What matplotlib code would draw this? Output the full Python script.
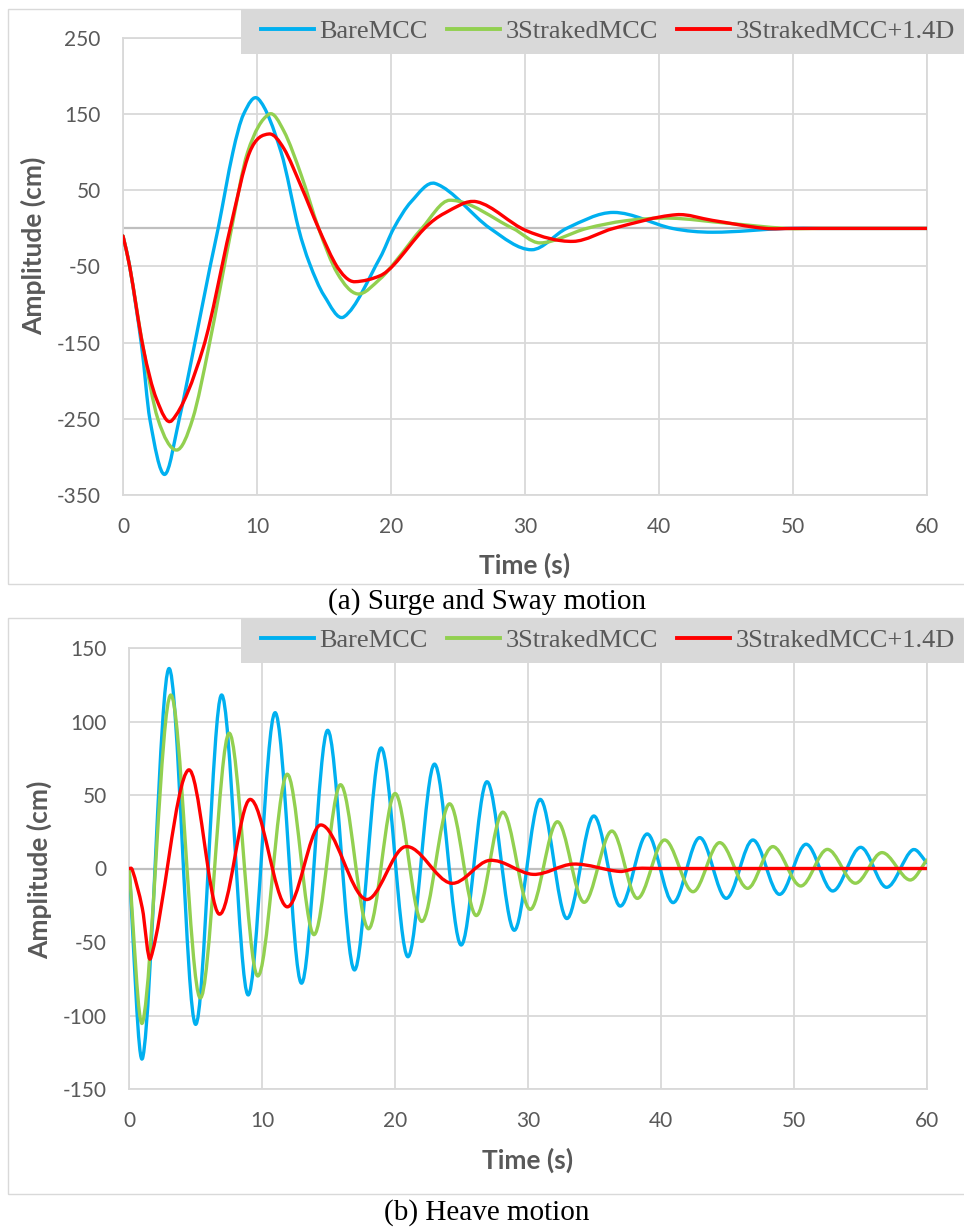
import numpy as np
import matplotlib
matplotlib.use("Agg")
import matplotlib.pyplot as plt
from matplotlib.path import Path
from matplotlib.patches import PathPatch, Rectangle
from matplotlib.lines import Line2D

plt.rcParams["axes.unicode_minus"] = False


# ---------- Data -------------------------------------------------------------

SERIES  = ["BareMCC", "3StrakedMCC", "3StrakedMCC+1.4D"]
COLOURS = ["#00b0f0", "#92d050", "#ff0000"]

# (a) surge / sway decay: time (s) and amplitude (cm)
surge_bare_t = [0, 0.5, 1.4, 2.0, 3.1, 4.2, 5.3, 6.5, 7.1, 8.2, 9.0, 10.1,
                11.8, 13.1, 13.9, 15.0, 16.5, 19.2, 20.2, 21.5, 23.3, 27.4,
                30.5, 33.1, 36.6, 41.0, 44.0, 49.5, 52.0, 60]
surge_bare_v = [-10, -50, -156, -250, -323, -250, -156, -50, 0, 100, 150, 170,
                100, 0, -45, -88, -116, -38, 0, 35, 59, 0,
                -28, 0, 21, 0, -5, 0, 0, 0]

surge_strake_t = [0, 0.5, 1.5, 2.6, 4.0, 5.2, 6.4, 8.1, 9.3, 10.9, 12.0, 13.3,
                  14.6, 16.0, 17.5, 19.2, 20.4, 22.3, 24.4, 29.1, 31.1, 34.6,
                  37.5, 40.8, 45.0, 49.5, 52.0, 60]
surge_strake_v = [-10, -50, -156, -250, -291, -250, -156, 0, 100, 150, 128, 70,
                  0, -59, -86, -66, -42, 0, 37, 0, -19, 0,
                  10, 13.5, 7, 0, 0, 0]

surge_damp_t = [0, 0.5, 1.5, 2.5, 3.66, 6.0, 8.0, 9.45, 10.9, 12.0, 13.3, 14.6,
                15.8, 16.6, 17.3, 19.2, 20.2, 22.5, 24.0, 26.4, 30.1, 33.6,
                36.6, 41.3, 44.0, 47.9, 50.0, 60]
surge_damp_v = [-10, -50, -156, -224, -252, -156, 0, 100, 124, 105, 55, 0,
                -45, -64, -70, -62, -48, 0, 20, 35, -3, -17,
                0, 18, 10.5, 0, 0, 0]

# (b) heave decay: time (s) and amplitude (cm)
heave_bare_t = [0, 1.05, 3.0, 5.0, 6.95, 8.95, 10.98, 12.96, 14.93, 16.94, 18.95,
                20.96, 22.96, 24.96, 26.9, 28.95, 30.9, 32.9, 34.93, 36.9, 38.96,
                40.9, 42.9, 44.9, 46.9, 48.9, 50.9, 52.9, 55.0, 56.95, 58.9, 60]
heave_bare_v = [0, -128, 136, -106, 118, -86, 106, -78, 94, -69, 82,
                -60, 71, -52, 59, -42, 47, -34, 35.7, -25.5, 23.5,
                -23.2, 21, -20.3, 19.4, -17.6, 16.5, -15.3, 14.4, -12.8, 12.6, 4]

heave_strake_t = [0, 1.05, 3.13, 5.34, 7.52, 9.65, 11.86, 13.9, 15.9, 18.0, 20.0,
                  22.0, 24.1, 26.1, 28.1, 30.15, 32.2, 34.2, 36.3, 38.2, 40.25,
                  42.4, 44.4, 46.5, 48.4, 50.5, 52.5, 54.6, 56.6, 58.7, 60]
heave_strake_v = [0, -104, 118, -88, 92, -73, 64, -45, 57, -41, 51,
                  -36, 44, -32, 38.3, -27.8, 31.8, -23, 25.5, -20.3, 19.4,
                  -15.8, 17.6, -13.5, 14.9, -11.9, 13, -10, 10.8, -7.8, 5.8]

heave_damp_t = [0, 0.25, 1.0, 1.63, 4.46, 6.77, 9.1, 11.85, 14.4, 17.8, 20.75,
                24.2, 27.1, 30.4, 33.4, 36.9, 38.1, 40.0, 60]
heave_damp_v = [0, -1, -27, -61, 67, -31, 47, -26, 29.6, -21, 14.8,
                -10, 5.5, -4, 3, -2, 0, 0, 0]


# ---------- Helpers ----------------------------------------------------------

W, H = 964, 1227


def fx(px):
    return px / W


def fy(py):
    return 1 - py / H


def smooth_path(t, v):
    """Smoothed line through the samples (cubic Hermite, Excel style)."""
    t = np.asarray(t, float)
    v = np.asarray(v, float)
    m = np.empty_like(v)
    m[1:-1] = (v[2:] - v[:-2]) / (t[2:] - t[:-2])
    m[0] = (v[1] - v[0]) / (t[1] - t[0])
    m[-1] = (v[-1] - v[-2]) / (t[-1] - t[-2])

    verts = [(t[0], v[0])]
    codes = [Path.MOVETO]
    for i in range(len(t) - 1):
        h = t[i + 1] - t[i]
        verts += [(t[i] + h / 3, v[i] + m[i] * h / 3),
                  (t[i + 1] - h / 3, v[i + 1] - m[i + 1] * h / 3),
                  (t[i + 1], v[i + 1])]
        codes += [Path.CURVE4] * 3
    return Path(verts, codes)


SANS  = "Lato"
SERIF = "Liberation Serif"
GREY  = "#595959"
GRID  = "#d9d9d9"


def draw_panel(ax, curves, yticks, ylabel_x, ylabel_y, box_top, box_bottom,
               caption, caption_y, xtick_y, xlabel_y):
    for (t, v), colour in zip(curves, COLOURS):
        ax.add_patch(PathPatch(smooth_path(t, v), fill=False, edgecolor=colour,
                               lw=2.4, capstyle="round", joinstyle="round",
                               zorder=3))

    ax.set_xlim(0, 60)
    ax.set_ylim(yticks[0], yticks[-1])
    ax.set_xticks(range(0, 61, 10))
    ax.set_yticks(yticks)
    ax.grid(True, color=GRID, lw=1.3, zorder=0)
    ax.set_axisbelow(True)
    ax.axhline(0, color="#bfbfbf", lw=1.6, zorder=1.5)
    for sp in ax.spines.values():
        sp.set_color(GRID)
        sp.set_linewidth(1.3)

    ax.tick_params(length=0, labelsize=15, labelcolor=GREY)
    ax.tick_params(axis="y", pad=16)
    for lab in ax.get_xticklabels() + ax.get_yticklabels():
        lab.set_family(SANS)
    # tick label distance below the plot
    bottom_px = H - ax.get_position().y0 * H
    ax.tick_params(axis="x", pad=(xtick_y - bottom_px - 10) * 0.72)

    fig = ax.figure
    pos = ax.get_position()
    xc = (pos.x0 + pos.x1) / 2
    fig.text(xc, fy(xlabel_y), "Time (s)", ha="center", va="center",
             family=SANS, weight="bold", size=19, color=GREY)
    fig.text(fx(ylabel_x), fy(ylabel_y), "Amplitude (cm)",
             rotation=90, ha="center", va="center",
             family=SANS, weight="bold", size=19, color=GREY)

    # outer chart frame
    fig.patches.append(Rectangle((fx(8), fy(box_bottom)), fx(980 - 8),
                                 (box_bottom - box_top) / H,
                                 transform=fig.transFigure, fill=False,
                                 edgecolor=GRID, lw=1.0, zorder=1))
    # legend band
    fig.patches.append(Rectangle((fx(241), fy(box_top + 45)), fx(980 - 241),
                                 45 / H, transform=fig.transFigure,
                                 facecolor=GRID, edgecolor="none", zorder=2))
    handles = [Line2D([], [], color=c, lw=2.8) for c in COLOURS]
    fig.legend(handles, SERIES, loc="center left",
               bbox_to_anchor=(fx(261), fy(box_top + 22.5)),
               ncol=3, frameon=False, borderpad=0, borderaxespad=0,
               handlelength=2.0, handletextpad=0.2, columnspacing=0.75,
               prop={"family": SERIF, "size": 19}, labelcolor=GREY)

    fig.text(fx(487), fy(caption_y), caption, ha="center", va="center",
             family=SERIF, size=21, color="black")


# ---------- Figure -----------------------------------------------------------

fig = plt.figure(figsize=(W / 100, H / 100), dpi=100)

ax_a = fig.add_axes([fx(123), fy(495), fx(927 - 123), (495 - 38) / H])
ax_b = fig.add_axes([fx(129), fy(1089), fx(927 - 129), (1089 - 648) / H])

draw_panel(ax_a,
           [(surge_bare_t, surge_bare_v),
            (surge_strake_t, surge_strake_v),
            (surge_damp_t, surge_damp_v)],
           list(range(-350, 251, 100)), ylabel_x=33, ylabel_y=246,
           box_top=9, box_bottom=584,
           caption="(a) Surge and Sway motion", caption_y=602,
           xtick_y=527, xlabel_y=565)

draw_panel(ax_b,
           [(heave_bare_t, heave_bare_v),
            (heave_strake_t, heave_strake_v),
            (heave_damp_t, heave_damp_v)],
           list(range(-150, 151, 50)), ylabel_x=39, ylabel_y=870,
           box_top=618, box_bottom=1194,
           caption="(b) Heave motion", caption_y=1213,
           xtick_y=1121, xlabel_y=1160)

fig.savefig("out.png", dpi=100)
